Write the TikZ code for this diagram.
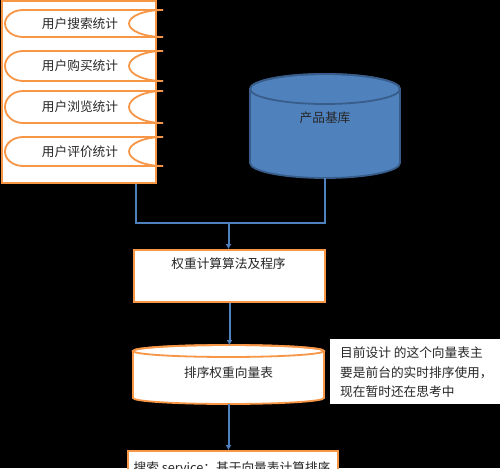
\documentclass[tikz,border=0pt]{standalone}
\usepackage{fontspec}
\newfontfamily\cjk{Noto Sans CJK SC}
\usetikzlibrary{arrows.meta}
\definecolor{orng}{HTML}{F79646}
\definecolor{blu}{HTML}{4F81BD}
\definecolor{dblu}{HTML}{385D8A}
\begin{document}
\begin{tikzpicture}[x=1pt,y=1pt,
  font=\cjk\fontsize{12.7}{14}\selectfont,
  conn/.style={draw=blu, line width=2pt},
  tip/.style={-{Latex[length=5pt,width=6pt]}},
  obox/.style={draw=orng, line width=2pt, fill=white, inner sep=0pt},
  oline/.style={draw=orng, line width=1.8pt},
  anchorbox/.style={inner sep=0pt, outer sep=0pt},
  txt/.style={inner sep=0pt, text=black!85}]
\useasboundingbox (0,0) rectangle (500,-468);
\clip (0,0) rectangle (500,-468);
\fill[black] (0,0) rectangle (500,-468);

% left panel
\node[obox, anchor=north west, minimum width=154, minimum height=182] (panel) at (1,0) {};
\foreach \t/\b/\lab/\nm in {10/37/用户搜索统计/s1, 51/81/用户购买统计/s2, 91/123/用户浏览统计/s3, 137/166/用户评价统计/s4}{
  \pgfmathsetmacro\hr{(\b-\t)/2}
  \draw[oline, fill=white] (23,-\t) -- (163,-\t)
     arc[start angle=90, end angle=270, x radius=34, y radius=\hr]
     -- (23,-\b)
     arc[start angle=270, end angle=90, x radius=18, y radius=\hr] -- cycle;
  \node[txt] (\nm) at (80,{-(\t+\b)/2}) {\lab};
}

% product database cylinder
\node[anchorbox, minimum width=150, minimum height=104] (db) at (325,-126) {};
\draw[draw=dblu, line width=1.8pt, fill=blu] (250,-89) -- (250,-163)
   arc[start angle=180, end angle=360, x radius=75, y radius=15]
   -- (400,-89) arc[start angle=0, end angle=180, x radius=75, y radius=15] -- cycle;
\draw[draw=dblu, line width=1.8pt] (325,-89) ellipse[x radius=75, y radius=15];
\node[txt] (dbt) at (325,-118) {产品基库};

% weight computation box
\node[obox, anchor=north west, minimum width=191, minimum height=52] (box1) at (133,-249) {};
\node[txt] (box1t) at (228.5,-264) {权重计算算法及程序};

% merge connector
\coordinate (j) at (228.5,-223);
\draw[conn] ([xshift=-21pt]panel.south east) |- (j) -| (db.south);
\draw[conn, tip] (j) -- (j |- box1.north);

% vector table cylinder
\node[anchorbox, minimum width=191, minimum height=59] (vec) at (228.5,-374.5) {};
\draw[oline, fill=white] (133,-351) -- (133,-398)
   arc[start angle=180, end angle=360, x radius=95.5, y radius=6]
   -- (324,-351) arc[start angle=0, end angle=180, x radius=95.5, y radius=6] -- cycle;
\draw[oline] (228.5,-351) ellipse[x radius=95.5, y radius=6];
\node[txt] (vect) at (228.5,-373) {排序权重向量表};
\draw[conn, tip] (box1.south) -- (box1.south |- vec.north);

% note
\node[fill=white, anchor=north west, minimum width=170, minimum height=65, inner sep=0pt] (note) at (330,-339) {};
\node[txt, anchor=north west, align=left, font=\cjk\fontsize{12.7}{19.7}\selectfont] (notet) at (340,-346.5)
  {目前设计 的这个向量表主\\要是前台的实时排序使用，\\现在暂时还在思考中};

% search service box
\node[obox, anchor=north west, minimum width=210, minimum height=40] (svc) at (127,-450) {};
\node[txt] (svct) at (232,-468) {搜索 service：基于向量表计算排序};
\draw[conn, tip] (vec.south) -- (vec.south |- svc.north);
\end{tikzpicture}
\end{document}
